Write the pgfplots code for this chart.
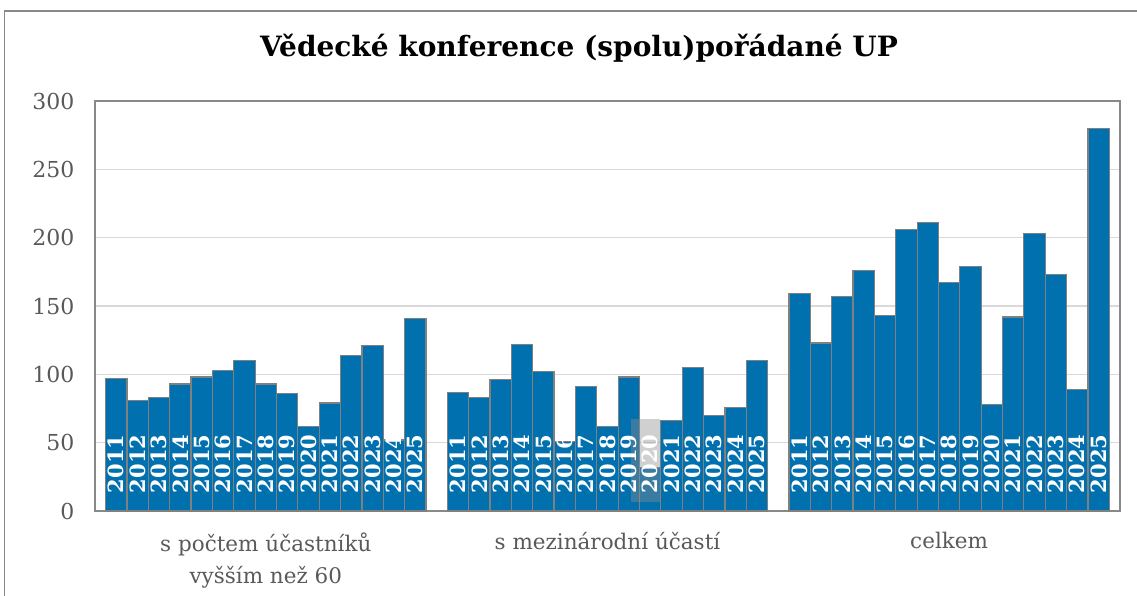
\documentclass[border=0pt]{standalone}
\usepackage{fontspec}
\setmainfont{DejaVu Serif}
\usepackage{pgfplots}
\usepackage{pgfplotstable}
\pgfplotsset{compat=1.18}
\definecolor{barblue}{RGB}{0,112,175}
\definecolor{bargrey}{RGB}{128,128,128}
\definecolor{axgrey}{RGB}{137,137,137}
\definecolor{gridgrey}{RGB}{217,217,217}
\definecolor{labgrey}{RGB}{89,89,89}
\definecolor{boxgrey}{RGB}{141,141,141}

\pgfplotstableread{
x val lab
1 97 2011
2 81 2012
3 83 2013
4 93 2014
5 98 2015
6 103 2016
7 110 2017
8 93 2018
9 86 2019
10 62 2020
11 79 2021
12 114 2022
13 121 2023
14 52 2024
15 141 2025
17 87 2011
18 83 2012
19 96 2013
20 122 2014
21 102 2015
22 51 2016
23 91 2017
24 62 2018
25 98 2019
26 32 2020
27 66 2021
28 105 2022
29 70 2023
30 76 2024
31 110 2025
33 159 2011
34 123 2012
35 157 2013
36 176 2014
37 143 2015
38 206 2016
39 211 2017
40 167 2018
41 179 2019
42 78 2020
43 142 2021
44 203 2022
45 173 2023
46 89 2024
47 280 2025
}\datatable

\begin{document}
\begin{tikzpicture}
\useasboundingbox (0pt,0pt) rectangle (1137pt,-595pt);
\draw[axgrey, line width=1.5pt] (4.5pt,-600pt) -- (4.5pt,-11pt) -- (1140pt,-11pt);
\node[font=\bfseries\fontsize{28}{34}\selectfont] at (579pt,-48pt) {Vědecké konference (spolu)pořádané UP};
\begin{axis}[
  at={(95pt,-511pt)}, anchor=south west,
  scale only axis, width=1025pt, height=410pt,
  xmin=0, xmax=48, ymin=0, ymax=300,
  ytick={0,50,...,300},
  xtick={8,24,40},
  xticklabels={{s počtem účastníků\\vyšším než 60},{s mezinárodní účastí},{celkem}},
  xticklabel style={align=center, font=\fontsize{21.5}{32}\selectfont, text=labgrey, anchor=north, yshift=-18pt},
  yticklabel style={font=\fontsize{22}{26}\selectfont, text=labgrey, xshift=-17pt},
  /pgf/number format/assume math mode=true,
  ymajorgrids, grid style={gridgrey, line width=1.5pt},
  major tick length=0pt,
  axis line style={axgrey, line width=1.5pt},
]
\addplot[ybar, bar width=1, fill=barblue, draw=bargrey, line width=1.2pt] table[x=x, y=val] {\datatable};
\addplot[only marks, mark size=0pt, nodes near coords, point meta=explicit symbolic,
  nodes near coords style={rotate=90, anchor=west, inner sep=0pt, text=white, font=\bfseries\fontsize{21}{21}\selectfont}]
  table[x=x, y expr=13, meta=lab] {\datatable};
\fill[boxgrey, opacity=0.41] (axis cs:25.1,6.6) rectangle (axis cs:26.46,67.3);
\end{axis}
\end{tikzpicture}
\end{document}
